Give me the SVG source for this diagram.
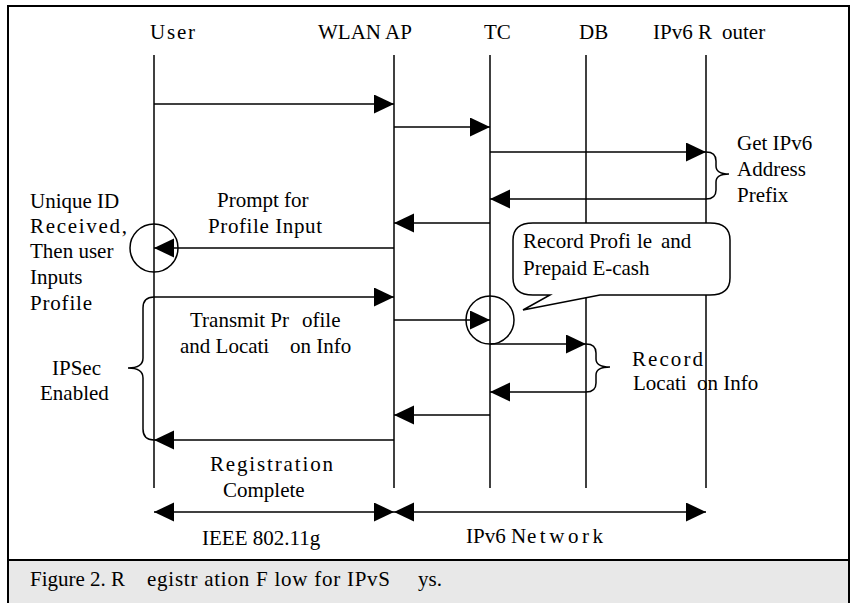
<svg xmlns="http://www.w3.org/2000/svg" width="856" height="603" viewBox="0 0 856 603" font-family="'Liberation Serif', 'Times New Roman', 'DejaVu Serif', serif" font-size="21">
<style>
text{font-family:'Liberation Serif','Times New Roman','DejaVu Serif',serif;font-size:21px;fill:#000}
.life{stroke:#000;stroke-width:1.5;fill:none}
.msg{stroke:#000;stroke-width:1.6;fill:none;marker-end:url(#ah)}
.dbl{stroke:#000;stroke-width:1.6;fill:none;marker-end:url(#ah);marker-start:url(#ah)}
.br{stroke:#000;stroke-width:1.5;fill:none}
</style>
<defs>
<marker id="ah" markerUnits="userSpaceOnUse" markerWidth="21" markerHeight="20" refX="20" refY="9.5" orient="auto-start-reverse">
<path d="M0,0 L20,9.5 L0,19 Z" fill="#000"/>
</marker>
</defs>
<rect x="8" y="6" width="841" height="554" fill="#fff" stroke="#000" stroke-width="2"/>
<rect x="8" y="560" width="841" height="50" fill="#e8e8e8" stroke="#000" stroke-width="2"/>

<g id="user">
<line class="life" x1="154" y1="55" x2="154" y2="488"/>
<text x="150" y="39" textLength="45" lengthAdjust="spacing">User</text>
</g>
<g id="wlan-ap">
<line class="life" x1="394" y1="55" x2="394" y2="488"/>
<text x="318" y="39">WLAN AP</text>
</g>
<g id="tc">
<line class="life" x1="490" y1="55" x2="490" y2="488"/>
<text x="484" y="39">TC</text>
</g>
<g id="db">
<line class="life" x1="586" y1="55" x2="586" y2="488"/>
<text x="579" y="39">DB</text>
</g>
<g id="ipv6-router">
<line class="life" x1="706" y1="55" x2="706" y2="488"/>
<text x="653" y="39">IPv6 R</text><text x="722" y="39">outer</text>
</g>

<g id="connectors">
<line class="msg" x1="154" y1="104" x2="394" y2="104"/>
<line class="msg" x1="394" y1="127" x2="490" y2="127"/>
<line class="msg" x1="490" y1="152" x2="706" y2="152"/>
<line class="msg" x1="706" y1="199" x2="490" y2="199"/>
<line class="msg" x1="490" y1="223" x2="394" y2="223"/>
<line class="msg" x1="394" y1="248" x2="154" y2="248"/>
<line class="msg" x1="154" y1="297" x2="394" y2="297"/>
<line class="msg" x1="394" y1="320" x2="490" y2="320"/>
<line class="msg" x1="490" y1="344" x2="586" y2="344"/>
<line class="msg" x1="586" y1="392" x2="490" y2="392"/>
<line class="msg" x1="490" y1="415" x2="394" y2="415"/>
<line class="msg" x1="394" y1="440" x2="154" y2="440"/>
<line class="dbl" x1="154" y1="512" x2="394" y2="512"/>
<line class="dbl" x1="394" y1="512" x2="706" y2="512"/>
<circle class="br" cx="154" cy="248" r="24"/>
<circle class="br" cx="490" cy="320" r="24"/>
<path class="br" d="M706,152 Q716,152 716,161 L716,166 Q716,174 729,174 Q716,174 716,182 L716,190 Q716,199 706,199"/>
<path class="br" d="M586,344 Q596,344 596,353 L596,359 Q596,367 610,367 Q596,367 596,375 L596,383 Q596,392 586,392"/>
<path class="br" d="M154,297 Q143,297 143,308 L143,358 Q143,368 128,368 Q143,368 143,378 L143,429 Q143,440 154,440"/>
</g>

<g id="callout">
<path d="M533,223 L710,223 Q730,223 730,240 L730,278 Q730,295 710,295 L600,295 L523,310 L550,295 L533,295 Q513,295 513,278 L513,240 Q513,223 533,223 Z" fill="#fff" stroke="#000" stroke-width="1.5"/>
<text x="523" y="248">Record Profi</text><text x="637" y="248">le</text><text x="661" y="248">and</text>
<text x="523" y="275">Prepaid E-cash</text>
</g>

<g id="labels">
<text x="737" y="150">Get IPv6</text>
<text x="737" y="176">Address</text>
<text x="737" y="202">Prefix</text>
<text x="30" y="208">Unique ID</text>
<text x="30" y="233" textLength="97" lengthAdjust="spacing">Received,</text>
<text x="30" y="258">Then user</text>
<text x="30" y="284">Inputs</text>
<text x="30" y="310" textLength="62" lengthAdjust="spacing">Profile</text>
<text x="217" y="207">Prompt for</text>
<text x="208" y="233" textLength="114" lengthAdjust="spacing">Profile Input</text>
<text x="190" y="327">Transmit Pr</text><text x="302" y="327">ofile</text>
<text x="180" y="353">and Locati</text><text x="290" y="353">on Info</text>
<text x="52" y="375">IPSec</text>
<text x="40" y="400">Enabled</text>
<text x="210" y="471" textLength="123" lengthAdjust="spacing">Registration</text>
<text x="223" y="497">Complete</text>
<text x="202" y="545">IEEE 802.11g</text>
<text x="466" y="543">IPv6 N</text><text x="527" y="543" textLength="76" lengthAdjust="spacing">etwork</text>
<text x="632" y="366" textLength="71" lengthAdjust="spacing">Record</text>
<text x="633" y="390">Locati</text><text x="697" y="390">on Info</text>
</g>

<g id="caption">
<text x="30" y="586">Figure 2. R</text>
<text x="147" y="586" textLength="243" lengthAdjust="spacing">egistr ation F low for IPvS</text>
<text x="418" y="586">ys.</text>
</g>
</svg>
